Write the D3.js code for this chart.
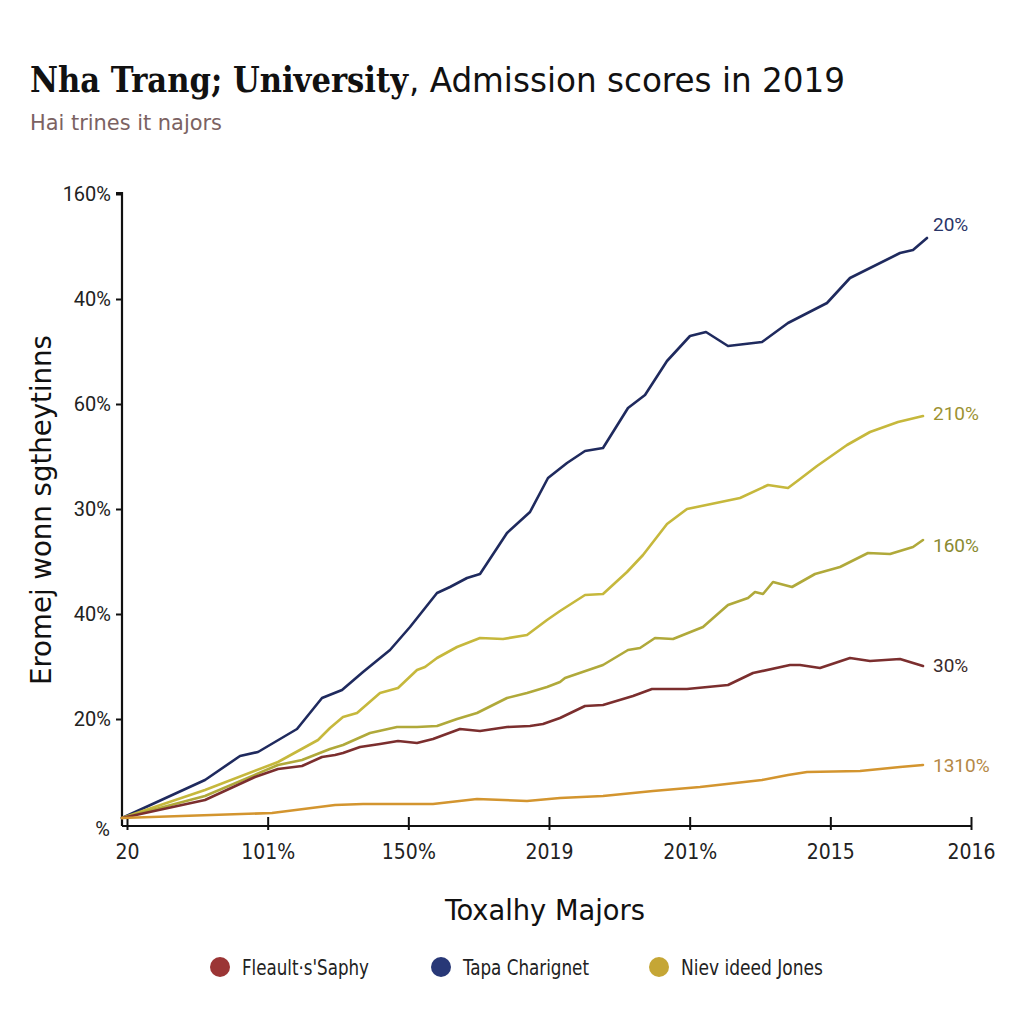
<!DOCTYPE html>
<html>
<head>
<meta charset="utf-8">
<script src="https://cdn.jsdelivr.net/npm/d3@7"></script>
<style>
  html, body { margin: 0; padding: 0; background: #ffffff; }
  svg { display: block; }
</style>
</head>
<body>
<div id="chart"></div>
<script>
// ---------- data ----------
const xTickLabels = ["20", "101%", "150%", "2019", "201%", "2015", "2016"];
const yTickLabels = ["%", "20%", "40%", "30%", "60%", "40%", "160%"];

// x in period units (0..844), y in score index (0..630)
const navy = [[-5,6],[78,44],[113,68],[131,72],[170,95],[195,126],[215,134],[236,152],[263,174],[283,197],[310,231],[323,237],[340,246],[353,250],[380,291],[403,312],[421,346],[440,361],[458,373],[476,376],[501,416],[518,429],[540,463],[563,488],[579,492],[601,478],[635,482],[661,501],[700,521],[723,546],[773,571],[786,574],[800,586]];
const upperYellow = [[-5,6],[78,34],[151,62],[191,84],[203,96],[216,107],[230,111],[253,131],[271,136],[290,154],[298,157],[310,166],[330,177],[353,186],[376,185],[400,189],[420,204],[433,213],[458,229],[476,230],[500,252],[516,269],[540,300],[560,315],[613,326],[641,339],[661,336],[673,345],[690,358],[720,379],[743,392],[771,402],[796,408]];
const lowerYellow = [[-5,6],[78,28],[151,59],[175,64],[203,75],[216,79],[243,91],[270,97],[290,97],[310,98],[330,105],[350,111],[380,126],[400,131],[420,137],[433,142],[438,146],[476,159],[501,174],[513,176],[528,186],[546,185],[576,197],[593,212],[601,219],[621,226],[628,232],[636,230],[646,242],[665,237],[688,250],[713,257],[741,271],[763,270],[786,277],[796,284]];
const maroon = [[-5,6],[78,24],[128,47],[151,55],[175,58],[195,67],[208,69],[216,71],[233,77],[253,80],[271,83],[290,81],[306,85],[333,95],[353,93],[380,97],[403,98],[416,100],[433,106],[458,118],[476,119],[506,128],[525,135],[560,135],[601,139],[626,151],[663,159],[673,159],[693,156],[723,166],[743,163],[773,165],[796,158]];
const orange = [[-5,6],[145,11],[208,19],[236,20],[306,20],[350,25],[400,23],[433,26],[476,28],[526,33],[573,37],[635,44],[661,49],[680,52],[733,53],[773,57],[796,59]];

const seriesList = [
  {name: "navy",  values: navy,        color: "#1f2a5e", label: "20%",   labelColor: "#2a3568"},
  {name: "upper", values: upperYellow, color: "#c6b83c", label: "210%",  labelColor: "#9c9232"},
  {name: "lower", values: lowerYellow, color: "#b0a93a", label: "160%",  labelColor: "#8a8a30"},
  {name: "maroon",values: maroon,      color: "#7b2e2e", label: "30%",   labelColor: "#3a2a2a"},
  {name: "orange",values: orange,      color: "#d3952f", label: "1310%", labelColor: "#b58845"}
];

const legendNames = ["Fleault\u00b7s'Saphy", "Tapa Charignet", "Niev ideed Jones"];
const legendColors = ["#9b3535", "#283877", "#c5a635"];

// ---------- layout ----------
const W = 1024, H = 1024;
const svg = d3.select("#chart").append("svg").attr("width", W).attr("height", H);

const x = d3.scaleLinear().domain([0, 844]).range([127, 971]);
const y = d3.scaleLinear().domain([0, 630]).range([824, 194]);

const condensed = "'DejaVu Sans Condensed', 'Liberation Sans Narrow', 'Roboto', sans-serif";
const sans = "Roboto, 'Liberation Sans', Arial, sans-serif";

// Title
svg.append("text").attr("x", 30).attr("y", 92)
  .attr("font-family", "'DejaVu Serif Condensed', 'DejaVu Serif', serif")
  .attr("font-weight", "bold").attr("font-size", 36).attr("fill", "#111")
  .attr("textLength", 378).attr("lengthAdjust", "spacingAndGlyphs")
  .text("Nha Trang; University");
svg.append("text").attr("x", 409).attr("y", 92)
  .attr("font-family", condensed).attr("font-size", 34).attr("fill", "#111")
  .attr("textLength", 436).attr("lengthAdjust", "spacingAndGlyphs")
  .text(", Admission scores in 2019");
// Subtitle
svg.append("text").attr("x", 30).attr("y", 130)
  .attr("font-family", condensed).attr("font-size", 22).attr("fill", "#7b6262")
  .attr("textLength", 192).attr("lengthAdjust", "spacingAndGlyphs")
  .text("Hai trines it najors");

// Y axis
const yTickVals = d3.range(7).map(i => i * 105);
const yAxis = d3.axisLeft(y).tickValues(yTickVals)
  .tickFormat((d, i) => yTickLabels[i]).tickSize(6).tickPadding(5);
const gy = svg.append("g").attr("transform", "translate(122,0)").call(yAxis);
gy.select(".domain").attr("d", "M-6,193H0V826").attr("stroke", "#111").attr("stroke-width", 2.2);
gy.selectAll(".tick line").attr("stroke", "#111").attr("stroke-width", 2);
gy.selectAll(".tick text").attr("font-family", sans).attr("font-size", 20).attr("fill", "#222");
gy.selectAll(".tick").filter((d, i) => i === 0).select("line").remove();
gy.selectAll(".tick").filter((d, i) => i === 0).select("text").attr("dy", "0.55em").attr("x", -12);

// X axis
const xTickVals = d3.range(7).map(i => i * 844 / 6);
const xAxis = d3.axisBottom(x).tickValues(xTickVals)
  .tickFormat((d, i) => xTickLabels[i]).tickSize(0).tickPadding(18);
const gx = svg.append("g").attr("transform", "translate(0,826)").call(xAxis);
gx.select(".domain").attr("d", "M122,0H971").attr("stroke", "#111").attr("stroke-width", 2.2);
gx.selectAll(".tick line").remove();
gx.selectAll(".tick").append("line").attr("y1", -9).attr("y2", 4).attr("stroke", "#111").attr("stroke-width", 2);
gx.selectAll(".tick text").attr("font-family", condensed).attr("font-size", 21).attr("fill", "#222");

// Lines
const line = d3.line().x(d => x(d[0])).y(d => y(d[1]));
svg.append("g").selectAll("path").data(seriesList).join("path")
  .attr("d", s => line(s.values))
  .attr("fill", "none")
  .attr("stroke", s => s.color)
  .attr("stroke-width", 2.6)
  .attr("stroke-linejoin", "round")
  .attr("stroke-linecap", "round");

// End labels
const endLabelY = {"20%": 224, "210%": 413, "160%": 545, "30%": 665, "1310%": 765};
svg.append("g").selectAll("text").data(seriesList).join("text")
  .attr("x", 933)
  .attr("y", s => endLabelY[s.label])
  .attr("dy", "0.35em")
  .attr("font-family", sans).attr("font-size", 19)
  .attr("fill", s => s.labelColor)
  .text(s => s.label);

// Axis titles
svg.append("text").attr("x", 545).attr("y", 920).attr("text-anchor", "middle")
  .attr("font-family", condensed).attr("font-size", 28).attr("fill", "#111")
  .attr("textLength", 200).attr("lengthAdjust", "spacingAndGlyphs")
  .text("Toxalhy Majors");
svg.append("text").attr("transform", "translate(51,510) rotate(-90)").attr("text-anchor", "middle")
  .attr("font-family", condensed).attr("font-size", 29).attr("fill", "#111")
  .attr("textLength", 350).attr("lengthAdjust", "spacingAndGlyphs")
  .text("Eromej wonn sgtheytinns");

// Legend
const legendX = [220, 441, 659];
const legendW = [127, 126, 142];
const lg = svg.append("g").selectAll("g").data(legendNames).join("g")
  .attr("transform", (d, i) => `translate(${legendX[i]},967)`);
lg.append("circle").attr("r", 10).attr("fill", (d, i) => legendColors[i]);
lg.append("text").attr("x", 22).attr("y", 8)
  .attr("font-family", condensed).attr("font-size", 21).attr("fill", "#222")
  .attr("textLength", (d, i) => legendW[i]).attr("lengthAdjust", "spacingAndGlyphs")
  .text(d => d);
</script>
</body>
</html>
